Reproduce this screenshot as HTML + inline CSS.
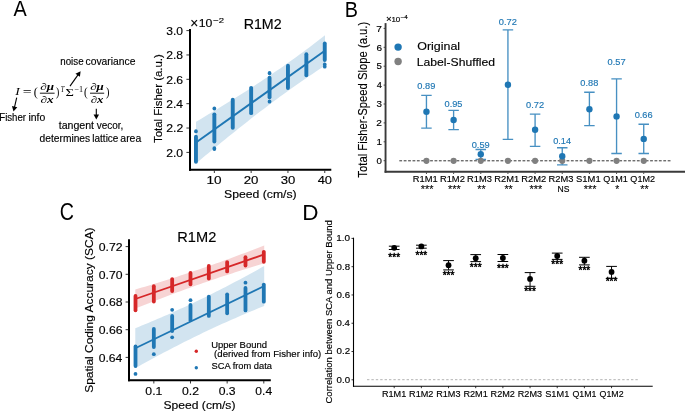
<!DOCTYPE html>
<html><head><meta charset="utf-8"><style>
html,body{margin:0;padding:0;background:#fff;width:685px;height:411px;overflow:hidden}
svg{display:block;will-change:transform} svg text{font-family:"Liberation Sans", sans-serif} svg g text{font-family:"Liberation Serif", serif}
</style></head><body>
<svg width="685" height="411" viewBox="0 0 685 411">
<rect width="685" height="411" fill="#fff"/>
<text x="13.40" y="16.20" font-size="22.40" fill="#000" style='font-family:"Liberation Sans", sans-serif' textLength="13.24" lengthAdjust="spacingAndGlyphs" stroke="none">A</text>
<text x="344.81" y="16.50" font-size="22.40" fill="#000" style='font-family:"Liberation Sans", sans-serif' textLength="13.22" lengthAdjust="spacingAndGlyphs" stroke="none">B</text>
<text x="59.82" y="220.30" font-size="23.00" fill="#000" style='font-family:"Liberation Sans", sans-serif' textLength="14.21" lengthAdjust="spacingAndGlyphs" stroke="none">C</text>
<text x="302.30" y="220.30" font-size="22.40" fill="#000" style='font-family:"Liberation Sans", sans-serif' textLength="16.26" lengthAdjust="spacingAndGlyphs" stroke="none">D</text>
<text x="60.27" y="65.00" font-size="10.60" fill="#000" style='font-family:"Liberation Sans", sans-serif' textLength="23.28" lengthAdjust="spacingAndGlyphs"  stroke="#000" stroke-width="0.15">noise</text>
<text x="85.54" y="65.00" font-size="10.60" fill="#000" style='font-family:"Liberation Sans", sans-serif' textLength="49.94" lengthAdjust="spacingAndGlyphs"  stroke="#000" stroke-width="0.15">covariance</text>
<text x="-0.77" y="120.70" font-size="10.20" fill="#000" style='font-family:"Liberation Sans", sans-serif' textLength="26.85" lengthAdjust="spacingAndGlyphs"  stroke="#000" stroke-width="0.15">Fisher</text>
<text x="28.42" y="120.70" font-size="10.20" fill="#000" style='font-family:"Liberation Sans", sans-serif' textLength="16.82" lengthAdjust="spacingAndGlyphs"  stroke="#000" stroke-width="0.15">info</text>
<text x="58.74" y="128.90" font-size="10.20" fill="#000" style='font-family:"Liberation Sans", sans-serif' textLength="35.33" lengthAdjust="spacingAndGlyphs"  stroke="#000" stroke-width="0.15">tangent</text>
<text x="96.65" y="128.90" font-size="10.20" fill="#000" style='font-family:"Liberation Sans", sans-serif' textLength="26.63" lengthAdjust="spacingAndGlyphs"  stroke="#000" stroke-width="0.15">vecor,</text>
<text x="39.59" y="141.70" font-size="10.20" fill="#000" style='font-family:"Liberation Sans", sans-serif' textLength="50.59" lengthAdjust="spacingAndGlyphs"  stroke="#000" stroke-width="0.15">determines</text>
<text x="92.35" y="141.70" font-size="10.20" fill="#000" style='font-family:"Liberation Sans", sans-serif' textLength="26.02" lengthAdjust="spacingAndGlyphs"  stroke="#000" stroke-width="0.15">lattice</text>
<text x="120.33" y="141.70" font-size="10.20" fill="#000" style='font-family:"Liberation Sans", sans-serif' textLength="20.89" lengthAdjust="spacingAndGlyphs"  stroke="#000" stroke-width="0.15">area</text>
<text x="15.17" y="95.30" font-size="10.50" fill="#000" font-style="italic" style='font-family:"Liberation Serif", serif' textLength="4.53" lengthAdjust="spacingAndGlyphs">I</text>
<text x="22.72" y="96.20" font-size="12.50" fill="#000"  style='font-family:"Liberation Serif", serif' textLength="8.85" lengthAdjust="spacingAndGlyphs">=</text>
<text x="33.75" y="96.00" font-size="12.50" fill="#000"  style='font-family:"Liberation Serif", serif' textLength="4.05" lengthAdjust="spacingAndGlyphs">(</text>
<text x="40.24" y="90.20" font-size="9.60" fill="#000" font-style="italic" font-weight="bold" style='font-family:"Liberation Serif", serif' textLength="13.76" lengthAdjust="spacingAndGlyphs">∂μ</text>
<text x="40.54" y="102.90" font-size="9.60" fill="#000" font-style="italic" font-weight="bold" style='font-family:"Liberation Serif", serif' textLength="13.08" lengthAdjust="spacingAndGlyphs">∂x</text>
<text x="56.00" y="96.00" font-size="12.50" fill="#000"  style='font-family:"Liberation Serif", serif' textLength="3.33" lengthAdjust="spacingAndGlyphs">)</text>
<text x="60.77" y="91.60" font-size="8.60" fill="#000" font-style="italic" style='font-family:"Liberation Serif", serif' textLength="3.64" lengthAdjust="spacingAndGlyphs">T</text>
<text x="65.62" y="95.50" font-size="10.50" fill="#000"  style='font-family:"Liberation Serif", serif' textLength="8.43" lengthAdjust="spacingAndGlyphs">Σ</text>
<text x="74.49" y="91.70" font-size="8.20" fill="#000"  style='font-family:"Liberation Serif", serif' textLength="8.69" lengthAdjust="spacingAndGlyphs">−1</text>
<text x="84.11" y="96.00" font-size="12.50" fill="#000"  style='font-family:"Liberation Serif", serif' textLength="3.66" lengthAdjust="spacingAndGlyphs">(</text>
<text x="90.15" y="90.20" font-size="9.60" fill="#000" font-style="italic" font-weight="bold" style='font-family:"Liberation Serif", serif' textLength="13.65" lengthAdjust="spacingAndGlyphs">∂μ</text>
<text x="90.85" y="102.90" font-size="9.60" fill="#000" font-style="italic" font-weight="bold" style='font-family:"Liberation Serif", serif' textLength="12.65" lengthAdjust="spacingAndGlyphs">∂x</text>
<text x="105.99" y="96.00" font-size="12.50" fill="#000"  style='font-family:"Liberation Serif", serif' textLength="3.46" lengthAdjust="spacingAndGlyphs">)</text>
<line x1="39.9" y1="93.2" x2="54.6" y2="93.2" stroke="#000" stroke-width="0.9" />
<line x1="90.0" y1="93.2" x2="104.2" y2="93.2" stroke="#000" stroke-width="0.9" />
<line x1="70.0" y1="86.1" x2="77.99141659897367" y2="74.86678232785776" stroke="#000" stroke-width="1.1" />
<polygon points="80.6,71.2 79.94238542143937,76.86833688713583 75.46076257627989,73.68006828588142" fill="#000"/>
<line x1="16.7" y1="97.7" x2="14.509563510235642" y2="107.21470850241393" stroke="#000" stroke-width="1.1" />
<polygon points="13.5,111.6 11.941836873959225,106.1104984130937 17.301637593231092,107.34440937004837" fill="#000"/>
<line x1="96.3" y1="108.8" x2="96.3" y2="115.1" stroke="#000" stroke-width="1.1" />
<polygon points="96.3,119.6 93.55,114.6 99.05,114.6" fill="#000"/>
<polygon points="196.00,121.80 199.22,119.89 202.45,117.97 205.68,116.04 208.90,114.10 212.12,112.16 215.35,110.21 218.57,108.25 221.80,106.28 225.03,104.30 228.25,102.31 231.47,100.31 234.70,98.30 237.93,96.28 241.15,94.24 244.38,92.20 247.60,90.14 250.82,88.06 254.05,85.97 257.27,83.86 260.50,81.74 263.73,79.60 266.95,77.45 270.18,75.27 273.40,73.08 276.62,70.87 279.85,68.64 283.07,66.39 286.30,64.12 289.52,61.83 292.75,59.52 295.98,57.19 299.20,54.84 302.43,52.47 305.65,50.08 308.88,47.68 312.10,45.25 315.32,42.81 318.55,40.35 321.77,37.87 325.00,35.37 325.00,65.63 321.77,67.74 318.55,69.86 315.32,72.01 312.10,74.17 308.88,76.35 305.65,78.55 302.43,80.76 299.20,83.00 295.98,85.26 292.75,87.53 289.52,89.83 286.30,92.14 283.07,94.48 279.85,96.83 276.62,99.21 273.40,101.60 270.18,104.01 266.95,106.44 263.73,108.89 260.50,111.36 257.27,113.84 254.05,116.34 250.82,118.86 247.60,121.38 244.38,123.93 241.15,126.49 237.93,129.06 234.70,131.64 231.47,134.23 228.25,136.84 225.03,139.46 221.80,142.08 218.57,144.72 215.35,147.36 212.12,150.02 208.90,152.68 205.68,155.35 202.45,158.02 199.22,160.71 196.00,163.40" fill="#1f77b4" fill-opacity="0.2"/>
<line x1="196" y1="142.6" x2="324.5" y2="50.9" stroke="#1f77b4" stroke-width="1.9" />
<line x1="195.95" y1="136.75" x2="195.95" y2="161.85000000000002" stroke="#1f77b4" stroke-width="3.9" stroke-linecap="round"/>
<line x1="214.35" y1="114.35000000000001" x2="214.35" y2="141.45000000000002" stroke="#1f77b4" stroke-width="3.9" stroke-linecap="round"/>
<line x1="232.75" y1="99.65" x2="232.75" y2="127.85000000000001" stroke="#1f77b4" stroke-width="3.9" stroke-linecap="round"/>
<line x1="251.14999999999998" y1="87.85000000000001" x2="251.14999999999998" y2="113.14999999999999" stroke="#1f77b4" stroke-width="3.9" stroke-linecap="round"/>
<line x1="269.55" y1="77.75" x2="269.55" y2="97.25" stroke="#1f77b4" stroke-width="3.9" stroke-linecap="round"/>
<line x1="287.95" y1="65.75" x2="287.95" y2="87.95" stroke="#1f77b4" stroke-width="3.9" stroke-linecap="round"/>
<line x1="306.35" y1="54.150000000000006" x2="306.35" y2="75.25" stroke="#1f77b4" stroke-width="3.9" stroke-linecap="round"/>
<line x1="324.75" y1="43.550000000000004" x2="324.75" y2="60.05" stroke="#1f77b4" stroke-width="3.9" stroke-linecap="round"/>
<line x1="195.95" y1="131.15" x2="195.95" y2="131.45000000000002" stroke="#1f77b4" stroke-width="3.7" stroke-linecap="round"/>
<line x1="214.35" y1="108.44999999999999" x2="214.35" y2="108.55000000000001" stroke="#1f77b4" stroke-width="3.7" stroke-linecap="round"/>
<line x1="214.35" y1="149.04999999999998" x2="214.35" y2="148.15" stroke="#1f77b4" stroke-width="3.7" stroke-linecap="round"/>
<line x1="269.55" y1="72.94999999999999" x2="269.55" y2="73.35000000000001" stroke="#1f77b4" stroke-width="3.7" stroke-linecap="round"/>
<line x1="269.55" y1="101.25" x2="269.55" y2="101.75" stroke="#1f77b4" stroke-width="3.7" stroke-linecap="round"/>
<line x1="324.75" y1="64.45" x2="324.75" y2="64.35000000000001" stroke="#1f77b4" stroke-width="3.7" stroke-linecap="round"/>
<line x1="324.75" y1="66.64999999999999" x2="324.75" y2="66.75" stroke="#1f77b4" stroke-width="3.7" stroke-linecap="round"/>
<line x1="190.0" y1="29.1" x2="190.0" y2="170.7" stroke="#000" stroke-width="2.0" />
<line x1="189.0" y1="169.7" x2="331.3" y2="169.7" stroke="#000" stroke-width="2.0" />
<line x1="186.4" y1="152.4" x2="189" y2="152.4" stroke="#222" stroke-width="0.9" />
<text x="166.19" y="156.70" font-size="11.00" fill="#000" style='font-family:"Liberation Sans", sans-serif' textLength="16.90" lengthAdjust="spacingAndGlyphs"  stroke="#000" stroke-width="0.15">2.0</text>
<line x1="186.4" y1="128.04" x2="189" y2="128.04" stroke="#222" stroke-width="0.9" />
<text x="166.19" y="132.34" font-size="11.00" fill="#000" style='font-family:"Liberation Sans", sans-serif' textLength="17.03" lengthAdjust="spacingAndGlyphs"  stroke="#000" stroke-width="0.15">2.2</text>
<line x1="186.4" y1="103.68000000000002" x2="189" y2="103.68000000000002" stroke="#222" stroke-width="0.9" />
<text x="166.20" y="107.98" font-size="11.00" fill="#000" style='font-family:"Liberation Sans", sans-serif' textLength="16.77" lengthAdjust="spacingAndGlyphs"  stroke="#000" stroke-width="0.15">2.4</text>
<line x1="186.4" y1="79.32" x2="189" y2="79.32" stroke="#222" stroke-width="0.9" />
<text x="166.19" y="83.62" font-size="11.00" fill="#000" style='font-family:"Liberation Sans", sans-serif' textLength="16.96" lengthAdjust="spacingAndGlyphs"  stroke="#000" stroke-width="0.15">2.6</text>
<line x1="186.4" y1="54.960000000000036" x2="189" y2="54.960000000000036" stroke="#222" stroke-width="0.9" />
<text x="166.19" y="59.26" font-size="11.00" fill="#000" style='font-family:"Liberation Sans", sans-serif' textLength="16.90" lengthAdjust="spacingAndGlyphs"  stroke="#000" stroke-width="0.15">2.8</text>
<line x1="186.4" y1="30.60000000000001" x2="189" y2="30.60000000000001" stroke="#222" stroke-width="0.9" />
<text x="166.32" y="34.90" font-size="11.00" fill="#000" style='font-family:"Liberation Sans", sans-serif' textLength="16.77" lengthAdjust="spacingAndGlyphs"  stroke="#000" stroke-width="0.15">3.0</text>
<line x1="214.35" y1="170.5" x2="214.35" y2="173.0" stroke="#222" stroke-width="0.9" />
<text x="206.58" y="184.30" font-size="11.00" fill="#000" style='font-family:"Liberation Sans", sans-serif' textLength="15.09" lengthAdjust="spacingAndGlyphs"  stroke="#000" stroke-width="0.15">10</text>
<line x1="251.14999999999998" y1="170.5" x2="251.14999999999998" y2="173.0" stroke="#222" stroke-width="0.9" />
<text x="243.74" y="184.30" font-size="11.00" fill="#000" style='font-family:"Liberation Sans", sans-serif' textLength="14.72" lengthAdjust="spacingAndGlyphs"  stroke="#000" stroke-width="0.15">20</text>
<line x1="287.95" y1="170.5" x2="287.95" y2="173.0" stroke="#222" stroke-width="0.9" />
<text x="280.68" y="184.30" font-size="11.00" fill="#000" style='font-family:"Liberation Sans", sans-serif' textLength="14.58" lengthAdjust="spacingAndGlyphs"  stroke="#000" stroke-width="0.15">30</text>
<line x1="324.75" y1="170.5" x2="324.75" y2="173.0" stroke="#222" stroke-width="0.9" />
<text x="317.68" y="184.30" font-size="11.00" fill="#000" style='font-family:"Liberation Sans", sans-serif' textLength="14.37" lengthAdjust="spacingAndGlyphs"  stroke="#000" stroke-width="0.15">40</text>
<text x="224.05" y="197.90" font-size="10.60" fill="#000" style='font-family:"Liberation Sans", sans-serif' textLength="72.60" lengthAdjust="spacingAndGlyphs"  stroke="#000" stroke-width="0.15">Speed (cm/s)</text>
<text x="0" y="0" font-size="11.40" fill="#000" stroke="#000" stroke-width="0.15" style='font-family:"Liberation Sans", sans-serif' textLength="88.88" lengthAdjust="spacingAndGlyphs" transform="translate(161.70,143.03) rotate(-90)">Total Fisher (a.u.)</text>
<text x="243.66" y="29.10" font-size="15.30" fill="#000" style='font-family:"Liberation Sans", sans-serif' textLength="37.99" lengthAdjust="spacingAndGlyphs"  stroke="#000" stroke-width="0.15">R1M2</text>
<text x="190.24" y="28.00" font-size="14.00" fill="#000" style='font-family:"Liberation Sans", sans-serif' textLength="8.01" lengthAdjust="spacingAndGlyphs"  stroke="#000" stroke-width="0.15">×</text>
<text x="198.78" y="26.80" font-size="11.00" fill="#000" style='font-family:"Liberation Sans", sans-serif' textLength="13.64" lengthAdjust="spacingAndGlyphs"  stroke="#000" stroke-width="0.15">10</text>
<text x="213.22" y="22.80" font-size="8.00" fill="#000" style='font-family:"Liberation Sans", sans-serif' textLength="10.85" lengthAdjust="spacingAndGlyphs"  stroke="#000" stroke-width="0.15">−2</text>
<line x1="399.3" y1="160.8" x2="670.5" y2="160.8" stroke="#333" stroke-width="1.0" stroke-dasharray="2.8 1.6"/>
<path d="M426.45,95.3 L426.45,128.1 M421.20,95.3 L431.70,95.3 M421.20,128.1 L431.70,128.1" stroke="#1f77b4" stroke-opacity="0.82" stroke-width="1.35" fill="none"/>
<circle cx="426.45" cy="160.8" r="3.1" fill="#808080"/>
<circle cx="426.45" cy="111.7" r="3.2" fill="#1f77b4"/>
<text x="417.38" y="89.00" font-size="8.30" fill="#1f77b4" style='font-family:"Liberation Sans", sans-serif' textLength="18.00" lengthAdjust="spacingAndGlyphs"  stroke="#1f77b4" stroke-width="0.15">0.89</text>
<line x1="426.45" y1="172.5" x2="426.45" y2="174.0" stroke="#333" stroke-width="0.9" />
<text x="412.75" y="182.20" font-size="9.00" fill="#000" style='font-family:"Liberation Sans", sans-serif' textLength="24.94" lengthAdjust="spacingAndGlyphs"  stroke="#000" stroke-width="0.15">R1M1</text>
<text x="420.78" y="193.10" font-size="10.80" fill="#000" style='font-family:"Liberation Sans", sans-serif' textLength="12.71" lengthAdjust="spacingAndGlyphs" stroke="#000" stroke-width="0.12">***</text>
<path d="M453.61,110.4 L453.61,129.6 M448.36,110.4 L458.86,110.4 M448.36,129.6 L458.86,129.6" stroke="#1f77b4" stroke-opacity="0.82" stroke-width="1.35" fill="none"/>
<circle cx="453.61" cy="160.8" r="3.1" fill="#808080"/>
<circle cx="453.61" cy="120.0" r="3.2" fill="#1f77b4"/>
<text x="444.54" y="107.00" font-size="8.30" fill="#1f77b4" style='font-family:"Liberation Sans", sans-serif' textLength="17.95" lengthAdjust="spacingAndGlyphs"  stroke="#1f77b4" stroke-width="0.15">0.95</text>
<line x1="453.61" y1="172.5" x2="453.61" y2="174.0" stroke="#333" stroke-width="0.9" />
<text x="439.91" y="182.20" font-size="9.00" fill="#000" style='font-family:"Liberation Sans", sans-serif' textLength="24.94" lengthAdjust="spacingAndGlyphs"  stroke="#000" stroke-width="0.15">R1M2</text>
<text x="447.94" y="193.10" font-size="10.80" fill="#000" style='font-family:"Liberation Sans", sans-serif' textLength="12.71" lengthAdjust="spacingAndGlyphs" stroke="#000" stroke-width="0.12">***</text>
<path d="M480.77,149.5 L480.77,159.3 M475.52,149.5 L486.02,149.5 M475.52,159.3 L486.02,159.3" stroke="#1f77b4" stroke-opacity="0.82" stroke-width="1.35" fill="none"/>
<circle cx="480.77" cy="160.8" r="3.1" fill="#808080"/>
<circle cx="480.77" cy="154.3" r="3.2" fill="#1f77b4"/>
<text x="471.70" y="147.50" font-size="8.30" fill="#1f77b4" style='font-family:"Liberation Sans", sans-serif' textLength="18.00" lengthAdjust="spacingAndGlyphs"  stroke="#1f77b4" stroke-width="0.15">0.59</text>
<line x1="480.77" y1="172.5" x2="480.77" y2="174.0" stroke="#333" stroke-width="0.9" />
<text x="467.07" y="182.20" font-size="9.00" fill="#000" style='font-family:"Liberation Sans", sans-serif' textLength="24.89" lengthAdjust="spacingAndGlyphs"  stroke="#000" stroke-width="0.15">R1M3</text>
<text x="477.28" y="193.10" font-size="10.80" fill="#000" style='font-family:"Liberation Sans", sans-serif' textLength="8.36" lengthAdjust="spacingAndGlyphs" stroke="#000" stroke-width="0.12">**</text>
<path d="M507.93,29.8 L507.93,139.3 M502.68,29.8 L513.18,29.8 M502.68,139.3 L513.18,139.3" stroke="#1f77b4" stroke-opacity="0.82" stroke-width="1.35" fill="none"/>
<circle cx="507.93" cy="160.8" r="3.1" fill="#808080"/>
<circle cx="507.93" cy="84.8" r="3.2" fill="#1f77b4"/>
<text x="498.86" y="25.30" font-size="8.30" fill="#1f77b4" style='font-family:"Liberation Sans", sans-serif' textLength="18.05" lengthAdjust="spacingAndGlyphs"  stroke="#1f77b4" stroke-width="0.15">0.72</text>
<line x1="507.93" y1="172.5" x2="507.93" y2="174.0" stroke="#333" stroke-width="0.9" />
<text x="494.23" y="182.20" font-size="9.00" fill="#000" style='font-family:"Liberation Sans", sans-serif' textLength="24.94" lengthAdjust="spacingAndGlyphs"  stroke="#000" stroke-width="0.15">R2M1</text>
<text x="504.44" y="193.10" font-size="10.80" fill="#000" style='font-family:"Liberation Sans", sans-serif' textLength="8.36" lengthAdjust="spacingAndGlyphs" stroke="#000" stroke-width="0.12">**</text>
<path d="M535.09,114.1 L535.09,146.3 M529.84,114.1 L540.34,114.1 M529.84,146.3 L540.34,146.3" stroke="#1f77b4" stroke-opacity="0.82" stroke-width="1.35" fill="none"/>
<circle cx="535.09" cy="160.8" r="3.1" fill="#808080"/>
<circle cx="535.09" cy="129.8" r="3.2" fill="#1f77b4"/>
<text x="526.02" y="108.30" font-size="8.30" fill="#1f77b4" style='font-family:"Liberation Sans", sans-serif' textLength="18.05" lengthAdjust="spacingAndGlyphs"  stroke="#1f77b4" stroke-width="0.15">0.72</text>
<line x1="535.09" y1="172.5" x2="535.09" y2="174.0" stroke="#333" stroke-width="0.9" />
<text x="521.39" y="182.20" font-size="9.00" fill="#000" style='font-family:"Liberation Sans", sans-serif' textLength="24.94" lengthAdjust="spacingAndGlyphs"  stroke="#000" stroke-width="0.15">R2M2</text>
<text x="529.42" y="193.10" font-size="10.80" fill="#000" style='font-family:"Liberation Sans", sans-serif' textLength="12.71" lengthAdjust="spacingAndGlyphs" stroke="#000" stroke-width="0.12">***</text>
<path d="M562.25,147.7 L562.25,164.8 M557.00,147.7 L567.50,147.7 M557.00,164.8 L567.50,164.8" stroke="#1f77b4" stroke-opacity="0.82" stroke-width="1.35" fill="none"/>
<circle cx="562.25" cy="160.8" r="3.1" fill="#808080"/>
<circle cx="562.25" cy="156.3" r="3.2" fill="#1f77b4"/>
<text x="553.18" y="144.00" font-size="8.30" fill="#1f77b4" style='font-family:"Liberation Sans", sans-serif' textLength="17.85" lengthAdjust="spacingAndGlyphs"  stroke="#1f77b4" stroke-width="0.15">0.14</text>
<line x1="562.25" y1="172.5" x2="562.25" y2="174.0" stroke="#333" stroke-width="0.9" />
<text x="548.55" y="182.20" font-size="9.00" fill="#000" style='font-family:"Liberation Sans", sans-serif' textLength="24.89" lengthAdjust="spacingAndGlyphs"  stroke="#000" stroke-width="0.15">R2M3</text>
<text x="557.56" y="191.90" font-size="9.40" fill="#000" style='font-family:"Liberation Sans", sans-serif' textLength="11.91" lengthAdjust="spacingAndGlyphs"  stroke="#000" stroke-width="0.15">NS</text>
<path d="M589.41,92.2 L589.41,125.6 M584.16,92.2 L594.66,92.2 M584.16,125.6 L594.66,125.6" stroke="#1f77b4" stroke-opacity="0.82" stroke-width="1.35" fill="none"/>
<circle cx="589.41" cy="160.8" r="3.1" fill="#808080"/>
<circle cx="589.41" cy="109.2" r="3.2" fill="#1f77b4"/>
<text x="580.34" y="86.00" font-size="8.30" fill="#1f77b4" style='font-family:"Liberation Sans", sans-serif' textLength="17.95" lengthAdjust="spacingAndGlyphs"  stroke="#1f77b4" stroke-width="0.15">0.88</text>
<line x1="589.41" y1="172.5" x2="589.41" y2="174.0" stroke="#333" stroke-width="0.9" />
<text x="576.04" y="182.20" font-size="9.00" fill="#000" style='font-family:"Liberation Sans", sans-serif' textLength="24.62" lengthAdjust="spacingAndGlyphs"  stroke="#000" stroke-width="0.15">S1M1</text>
<text x="583.74" y="193.10" font-size="10.80" fill="#000" style='font-family:"Liberation Sans", sans-serif' textLength="12.71" lengthAdjust="spacingAndGlyphs" stroke="#000" stroke-width="0.12">***</text>
<path d="M616.57,78.9 L616.57,153.5 M611.32,78.9 L621.82,78.9 M611.32,153.5 L621.82,153.5" stroke="#1f77b4" stroke-opacity="0.82" stroke-width="1.35" fill="none"/>
<circle cx="616.5699999999999" cy="160.8" r="3.1" fill="#808080"/>
<circle cx="616.5699999999999" cy="116.4" r="3.2" fill="#1f77b4"/>
<text x="607.50" y="64.50" font-size="8.30" fill="#1f77b4" style='font-family:"Liberation Sans", sans-serif' textLength="18.05" lengthAdjust="spacingAndGlyphs"  stroke="#1f77b4" stroke-width="0.15">0.57</text>
<line x1="616.5699999999999" y1="172.5" x2="616.5699999999999" y2="174.0" stroke="#333" stroke-width="0.9" />
<text x="603.21" y="182.20" font-size="9.00" fill="#000" style='font-family:"Liberation Sans", sans-serif' textLength="24.59" lengthAdjust="spacingAndGlyphs"  stroke="#000" stroke-width="0.15">Q1M1</text>
<text x="615.26" y="193.10" font-size="10.80" fill="#000" style='font-family:"Liberation Sans", sans-serif' textLength="4.00" lengthAdjust="spacingAndGlyphs" stroke="#000" stroke-width="0.12">*</text>
<path d="M643.73,124.2 L643.73,153.5 M638.48,124.2 L648.98,124.2 M638.48,153.5 L648.98,153.5" stroke="#1f77b4" stroke-opacity="0.82" stroke-width="1.35" fill="none"/>
<circle cx="643.73" cy="160.8" r="3.1" fill="#808080"/>
<circle cx="643.73" cy="138.9" r="3.2" fill="#1f77b4"/>
<text x="634.66" y="118.40" font-size="8.30" fill="#1f77b4" style='font-family:"Liberation Sans", sans-serif' textLength="18.00" lengthAdjust="spacingAndGlyphs"  stroke="#1f77b4" stroke-width="0.15">0.66</text>
<line x1="643.73" y1="172.5" x2="643.73" y2="174.0" stroke="#333" stroke-width="0.9" />
<text x="630.37" y="182.20" font-size="9.00" fill="#000" style='font-family:"Liberation Sans", sans-serif' textLength="24.59" lengthAdjust="spacingAndGlyphs"  stroke="#000" stroke-width="0.15">Q1M2</text>
<text x="640.24" y="193.10" font-size="10.80" fill="#000" style='font-family:"Liberation Sans", sans-serif' textLength="8.36" lengthAdjust="spacingAndGlyphs" stroke="#000" stroke-width="0.12">**</text>
<line x1="385.55" y1="23.1" x2="385.55" y2="172.7" stroke="#3a3a3a" stroke-width="1.9" />
<line x1="384.6" y1="171.75" x2="685" y2="171.75" stroke="#3a3a3a" stroke-width="1.9" />
<line x1="383.6" y1="160.7" x2="385" y2="160.7" stroke="#3a3a3a" stroke-width="0.9" />
<text x="376.51" y="163.90" font-size="8.60" fill="#000" style='font-family:"Liberation Sans", sans-serif' textLength="5.39" lengthAdjust="spacingAndGlyphs"  stroke="#000" stroke-width="0.15">0</text>
<line x1="383.6" y1="141.79999999999998" x2="385" y2="141.79999999999998" stroke="#3a3a3a" stroke-width="0.9" />
<text x="376.57" y="145.00" font-size="8.60" fill="#000" style='font-family:"Liberation Sans", sans-serif' textLength="5.43" lengthAdjust="spacingAndGlyphs"  stroke="#000" stroke-width="0.15">1</text>
<line x1="383.6" y1="122.89999999999999" x2="385" y2="122.89999999999999" stroke="#3a3a3a" stroke-width="0.9" />
<text x="376.39" y="126.10" font-size="8.60" fill="#000" style='font-family:"Liberation Sans", sans-serif' textLength="5.62" lengthAdjust="spacingAndGlyphs"  stroke="#000" stroke-width="0.15">2</text>
<line x1="383.6" y1="104.0" x2="385" y2="104.0" stroke="#3a3a3a" stroke-width="0.9" />
<text x="376.51" y="107.20" font-size="8.60" fill="#000" style='font-family:"Liberation Sans", sans-serif' textLength="5.44" lengthAdjust="spacingAndGlyphs"  stroke="#000" stroke-width="0.15">3</text>
<line x1="383.6" y1="85.1" x2="385" y2="85.1" stroke="#3a3a3a" stroke-width="0.9" />
<text x="376.67" y="88.30" font-size="8.60" fill="#000" style='font-family:"Liberation Sans", sans-serif' textLength="5.12" lengthAdjust="spacingAndGlyphs"  stroke="#000" stroke-width="0.15">4</text>
<line x1="383.6" y1="66.19999999999999" x2="385" y2="66.19999999999999" stroke="#3a3a3a" stroke-width="0.9" />
<text x="376.51" y="69.40" font-size="8.60" fill="#000" style='font-family:"Liberation Sans", sans-serif' textLength="5.39" lengthAdjust="spacingAndGlyphs"  stroke="#000" stroke-width="0.15">5</text>
<line x1="383.6" y1="47.3" x2="385" y2="47.3" stroke="#3a3a3a" stroke-width="0.9" />
<text x="376.40" y="50.50" font-size="8.60" fill="#000" style='font-family:"Liberation Sans", sans-serif' textLength="5.56" lengthAdjust="spacingAndGlyphs"  stroke="#000" stroke-width="0.15">6</text>
<line x1="383.6" y1="28.400000000000006" x2="385" y2="28.400000000000006" stroke="#3a3a3a" stroke-width="0.9" />
<text x="376.39" y="31.60" font-size="8.60" fill="#000" style='font-family:"Liberation Sans", sans-serif' textLength="5.62" lengthAdjust="spacingAndGlyphs"  stroke="#000" stroke-width="0.15">7</text>
<text x="0" y="0" font-size="12.20" fill="#000" stroke="#000" stroke-width="0.15" style='font-family:"Liberation Sans", sans-serif' textLength="155.81" lengthAdjust="spacingAndGlyphs" transform="translate(366.80,177.63) rotate(-90)">Total Fisher-Speed Slope (a.u.)</text>
<text x="386.11" y="22.20" font-size="9.00" fill="#000" style='font-family:"Liberation Sans", sans-serif' textLength="5.77" lengthAdjust="spacingAndGlyphs"  stroke="#000" stroke-width="0.15">×</text>
<text x="391.40" y="21.70" font-size="6.60" fill="#000" style='font-family:"Liberation Sans", sans-serif' textLength="8.83" lengthAdjust="spacingAndGlyphs"  stroke="#000" stroke-width="0.15">10</text>
<text x="400.69" y="19.40" font-size="5.00" fill="#000" style='font-family:"Liberation Sans", sans-serif' textLength="7.10" lengthAdjust="spacingAndGlyphs"  stroke="#000" stroke-width="0.15">−4</text>
<circle cx="398.1" cy="47.1" r="3.7" fill="#1f77b4"/>
<circle cx="398.1" cy="61.5" r="3.7" fill="#808080"/>
<text x="417.24" y="50.10" font-size="11.70" fill="#000" style='font-family:"Liberation Sans", sans-serif' textLength="42.88" lengthAdjust="spacingAndGlyphs"  stroke="#000" stroke-width="0.15">Original</text>
<text x="416.83" y="65.70" font-size="11.60" fill="#000" style='font-family:"Liberation Sans", sans-serif' textLength="78.18" lengthAdjust="spacingAndGlyphs"  stroke="#000" stroke-width="0.15">Label-Shuffled</text>
<polygon points="135.30,328.21 138.52,326.90 141.75,325.58 144.97,324.25 148.19,322.91 151.41,321.56 154.64,320.20 157.86,318.82 161.08,317.44 164.30,316.04 167.53,314.63 170.75,313.21 173.97,311.78 177.19,310.33 180.42,308.87 183.64,307.39 186.86,305.90 190.08,304.40 193.31,302.88 196.53,301.35 199.75,299.80 202.97,298.24 206.19,296.66 209.42,295.07 212.64,293.47 215.86,291.85 219.09,290.22 222.31,288.57 225.53,286.91 228.75,285.24 231.97,283.55 235.20,281.86 238.42,280.14 241.64,278.42 244.87,276.69 248.09,274.94 251.31,273.18 254.53,271.41 257.75,269.63 260.98,267.84 264.20,266.04 264.20,305.96 260.98,307.27 257.75,308.59 254.53,309.92 251.31,311.26 248.09,312.61 244.87,313.97 241.64,315.35 238.42,316.74 235.20,318.13 231.97,319.55 228.75,320.97 225.53,322.41 222.31,323.86 219.09,325.32 215.86,326.80 212.64,328.29 209.42,329.80 206.19,331.32 202.97,332.85 199.75,334.40 196.53,335.96 193.31,337.54 190.08,339.13 186.86,340.74 183.64,342.36 180.42,343.99 177.19,345.64 173.97,347.30 170.75,348.98 167.53,350.67 164.30,352.37 161.08,354.08 157.86,355.81 154.64,357.54 151.41,359.29 148.19,361.05 144.97,362.82 141.75,364.60 138.52,366.39 135.30,368.19" fill="#1f77b4" fill-opacity="0.2"/>
<polygon points="135.30,289.50 138.52,288.55 141.75,287.59 144.97,286.63 148.19,285.66 151.41,284.69 154.64,283.71 157.86,282.72 161.08,281.73 164.30,280.73 167.53,279.72 170.75,278.71 173.97,277.68 177.19,276.65 180.42,275.61 183.64,274.56 186.86,273.51 190.08,272.44 193.31,271.37 196.53,270.28 199.75,269.19 202.97,268.08 206.19,266.97 209.42,265.85 212.64,264.71 215.86,263.57 219.09,262.42 222.31,261.26 225.53,260.09 228.75,258.91 231.97,257.72 235.20,256.52 238.42,255.32 241.64,254.10 244.87,252.88 248.09,251.65 251.31,250.42 254.53,249.18 257.75,247.93 260.98,246.67 264.20,245.41 264.20,263.39 260.98,264.36 257.75,265.33 254.53,266.31 251.31,267.30 248.09,268.30 244.87,269.30 241.64,270.31 238.42,271.32 235.20,272.35 231.97,273.38 228.75,274.42 225.53,275.47 222.31,276.53 219.09,277.60 215.86,278.68 212.64,279.77 209.42,280.86 206.19,281.97 202.97,283.09 199.75,284.21 196.53,285.35 193.31,286.49 190.08,287.65 186.86,288.81 183.64,289.99 180.42,291.17 177.19,292.36 173.97,293.56 170.75,294.76 167.53,295.98 164.30,297.20 161.08,298.43 157.86,299.67 154.64,300.91 151.41,302.16 148.19,303.42 144.97,304.68 141.75,305.95 138.52,307.22 135.30,308.50" fill="#d62728" fill-opacity="0.2"/>
<line x1="135.3" y1="348.2" x2="264.2" y2="286.0" stroke="#1f77b4" stroke-width="1.8" />
<line x1="135.3" y1="299.0" x2="264.2" y2="254.4" stroke="#d62728" stroke-width="1.8" />
<line x1="135.5" y1="296.0" x2="135.5" y2="310.3" stroke="#d62728" stroke-width="3.8" stroke-linecap="round"/>
<line x1="153.83" y1="286.2" x2="153.83" y2="301.5" stroke="#d62728" stroke-width="3.8" stroke-linecap="round"/>
<line x1="172.16" y1="279.09999999999997" x2="172.16" y2="291.1" stroke="#d62728" stroke-width="3.8" stroke-linecap="round"/>
<line x1="190.49" y1="272.9" x2="190.49" y2="284.3" stroke="#d62728" stroke-width="3.8" stroke-linecap="round"/>
<line x1="208.82" y1="266.0" x2="208.82" y2="278.6" stroke="#d62728" stroke-width="3.8" stroke-linecap="round"/>
<line x1="227.15" y1="262.09999999999997" x2="227.15" y2="271.40000000000003" stroke="#d62728" stroke-width="3.8" stroke-linecap="round"/>
<line x1="245.48000000000002" y1="257.2" x2="245.48000000000002" y2="265.5" stroke="#d62728" stroke-width="3.8" stroke-linecap="round"/>
<line x1="263.81000000000006" y1="251.8" x2="263.81000000000006" y2="261.8" stroke="#d62728" stroke-width="3.8" stroke-linecap="round"/>
<line x1="135.5" y1="346.4" x2="135.5" y2="366.0" stroke="#1f77b4" stroke-width="3.8" stroke-linecap="round"/>
<circle cx="135.5" cy="373.9" r="1.9" fill="#1f77b4"/>
<line x1="153.83" y1="328.9" x2="153.83" y2="347.0" stroke="#1f77b4" stroke-width="3.8" stroke-linecap="round"/>
<circle cx="153.83" cy="354.2" r="1.9" fill="#1f77b4"/>
<line x1="172.16" y1="315.9" x2="172.16" y2="331.0" stroke="#1f77b4" stroke-width="3.8" stroke-linecap="round"/>
<circle cx="172.16" cy="309.8" r="1.9" fill="#1f77b4"/>
<circle cx="172.16" cy="337.3" r="1.9" fill="#1f77b4"/>
<line x1="190.49" y1="304.9" x2="190.49" y2="320.20000000000005" stroke="#1f77b4" stroke-width="3.8" stroke-linecap="round"/>
<circle cx="190.49" cy="300.2" r="1.9" fill="#1f77b4"/>
<line x1="208.82" y1="296.7" x2="208.82" y2="315.90000000000003" stroke="#1f77b4" stroke-width="3.8" stroke-linecap="round"/>
<line x1="227.15" y1="294.29999999999995" x2="227.15" y2="313.3" stroke="#1f77b4" stroke-width="3.8" stroke-linecap="round"/>
<line x1="245.48000000000002" y1="287.9" x2="245.48000000000002" y2="310.40000000000003" stroke="#1f77b4" stroke-width="3.8" stroke-linecap="round"/>
<circle cx="245.48000000000002" cy="282.7" r="1.9" fill="#1f77b4"/>
<line x1="263.81000000000006" y1="284.59999999999997" x2="263.81000000000006" y2="301.70000000000005" stroke="#1f77b4" stroke-width="3.8" stroke-linecap="round"/>
<line x1="129.0" y1="239.3" x2="129.0" y2="381.2" stroke="#000" stroke-width="2.0" />
<line x1="128.0" y1="380.2" x2="270.8" y2="380.2" stroke="#000" stroke-width="2.0" />
<line x1="125.6" y1="357.40000000000003" x2="128.1" y2="357.40000000000003" stroke="#222" stroke-width="0.9" />
<text x="98.71" y="361.60" font-size="11.00" fill="#000" style='font-family:"Liberation Sans", sans-serif' textLength="23.67" lengthAdjust="spacingAndGlyphs"  stroke="#000" stroke-width="0.15">0.64</text>
<line x1="125.6" y1="329.70000000000005" x2="128.1" y2="329.70000000000005" stroke="#222" stroke-width="0.9" />
<text x="98.71" y="333.90" font-size="11.00" fill="#000" style='font-family:"Liberation Sans", sans-serif' textLength="23.86" lengthAdjust="spacingAndGlyphs"  stroke="#000" stroke-width="0.15">0.66</text>
<line x1="125.6" y1="302.0" x2="128.1" y2="302.0" stroke="#222" stroke-width="0.9" />
<text x="98.71" y="306.20" font-size="11.00" fill="#000" style='font-family:"Liberation Sans", sans-serif' textLength="23.79" lengthAdjust="spacingAndGlyphs"  stroke="#000" stroke-width="0.15">0.68</text>
<line x1="125.6" y1="274.3000000000001" x2="128.1" y2="274.3000000000001" stroke="#222" stroke-width="0.9" />
<text x="98.71" y="278.50" font-size="11.00" fill="#000" style='font-family:"Liberation Sans", sans-serif' textLength="23.79" lengthAdjust="spacingAndGlyphs"  stroke="#000" stroke-width="0.15">0.70</text>
<line x1="125.6" y1="246.6000000000001" x2="128.1" y2="246.6000000000001" stroke="#222" stroke-width="0.9" />
<text x="98.71" y="250.80" font-size="11.00" fill="#000" style='font-family:"Liberation Sans", sans-serif' textLength="23.92" lengthAdjust="spacingAndGlyphs"  stroke="#000" stroke-width="0.15">0.72</text>
<line x1="153.83" y1="381.0" x2="153.83" y2="383.5" stroke="#222" stroke-width="0.9" />
<text x="145.39" y="394.60" font-size="11.00" fill="#000" style='font-family:"Liberation Sans", sans-serif' textLength="17.00" lengthAdjust="spacingAndGlyphs"  stroke="#000" stroke-width="0.15">0.1</text>
<line x1="190.49" y1="381.0" x2="190.49" y2="383.5" stroke="#222" stroke-width="0.9" />
<text x="182.05" y="394.60" font-size="11.00" fill="#000" style='font-family:"Liberation Sans", sans-serif' textLength="17.00" lengthAdjust="spacingAndGlyphs"  stroke="#000" stroke-width="0.15">0.2</text>
<line x1="227.15" y1="381.0" x2="227.15" y2="383.5" stroke="#222" stroke-width="0.9" />
<text x="218.71" y="394.60" font-size="11.00" fill="#000" style='font-family:"Liberation Sans", sans-serif' textLength="16.94" lengthAdjust="spacingAndGlyphs"  stroke="#000" stroke-width="0.15">0.3</text>
<line x1="263.81000000000006" y1="381.0" x2="263.81000000000006" y2="383.5" stroke="#222" stroke-width="0.9" />
<text x="255.38" y="394.60" font-size="11.00" fill="#000" style='font-family:"Liberation Sans", sans-serif' textLength="16.75" lengthAdjust="spacingAndGlyphs"  stroke="#000" stroke-width="0.15">0.4</text>
<text x="163.56" y="408.70" font-size="10.60" fill="#000" style='font-family:"Liberation Sans", sans-serif' textLength="71.89" lengthAdjust="spacingAndGlyphs"  stroke="#000" stroke-width="0.15">Speed (cm/s)</text>
<text x="0" y="0" font-size="10.60" fill="#000" stroke="#000" stroke-width="0.15" style='font-family:"Liberation Sans", sans-serif' textLength="165.21" lengthAdjust="spacingAndGlyphs" transform="translate(92.70,392.74) rotate(-90)">Spatial Coding Accuracy (SCA)</text>
<text x="177.33" y="241.70" font-size="15.00" fill="#000" style='font-family:"Liberation Sans", sans-serif' textLength="38.94" lengthAdjust="spacingAndGlyphs"  stroke="#000" stroke-width="0.15">R1M2</text>
<circle cx="196.3" cy="351.3" r="1.7" fill="#d62728"/>
<circle cx="196.3" cy="367.7" r="1.7" fill="#1f77b4"/>
<text x="211.19" y="347.70" font-size="8.60" fill="#000" style='font-family:"Liberation Sans", sans-serif' textLength="55.76" lengthAdjust="spacingAndGlyphs"  stroke="#000" stroke-width="0.15">Upper Bound</text>
<text x="214.12" y="357.10" font-size="8.60" fill="#000" style='font-family:"Liberation Sans", sans-serif' textLength="107.10" lengthAdjust="spacingAndGlyphs"  stroke="#000" stroke-width="0.15">(derived from Fisher info)</text>
<text x="211.48" y="369.20" font-size="8.60" fill="#000" style='font-family:"Liberation Sans", sans-serif' textLength="60.45" lengthAdjust="spacingAndGlyphs"  stroke="#000" stroke-width="0.15">SCA from data</text>
<line x1="367" y1="379.7" x2="638.2" y2="379.7" stroke="#aaaaaa" stroke-width="0.9" stroke-dasharray="2.4 2.0"/>
<line x1="394.2" y1="246.2" x2="394.2" y2="249.5" stroke="#000" stroke-width="1.0" />
<line x1="388.84999999999997" y1="246.2" x2="399.55" y2="246.2" stroke="#000" stroke-width="1.0" />
<line x1="388.84999999999997" y1="249.5" x2="399.55" y2="249.5" stroke="#000" stroke-width="1.0" />
<circle cx="394.2" cy="247.85" r="2.9" fill="#000"/>
<text x="388.30" y="260.55" font-size="10.50" fill="#000" style='font-family:"Liberation Sans", sans-serif' textLength="11.78" lengthAdjust="spacingAndGlyphs" stroke="#000" stroke-width="0.45">***</text>
<line x1="394.2" y1="386.3" x2="394.2" y2="388.2" stroke="#000" stroke-width="0.8" />
<text x="381.92" y="396.50" font-size="9.00" fill="#000" style='font-family:"Liberation Sans", sans-serif' textLength="24.31" lengthAdjust="spacingAndGlyphs"  stroke="#000" stroke-width="0.15">R1M1</text>
<line x1="421.37" y1="245.2" x2="421.37" y2="248.2" stroke="#000" stroke-width="1.0" />
<line x1="416.02" y1="245.2" x2="426.72" y2="245.2" stroke="#000" stroke-width="1.0" />
<line x1="416.02" y1="248.2" x2="426.72" y2="248.2" stroke="#000" stroke-width="1.0" />
<circle cx="421.37" cy="246.4" r="2.9" fill="#000"/>
<text x="415.47" y="259.14" font-size="10.50" fill="#000" style='font-family:"Liberation Sans", sans-serif' textLength="11.78" lengthAdjust="spacingAndGlyphs" stroke="#000" stroke-width="0.45">***</text>
<line x1="421.37" y1="386.3" x2="421.37" y2="388.2" stroke="#000" stroke-width="0.8" />
<text x="409.09" y="396.50" font-size="9.00" fill="#000" style='font-family:"Liberation Sans", sans-serif' textLength="24.31" lengthAdjust="spacingAndGlyphs"  stroke="#000" stroke-width="0.15">R1M2</text>
<line x1="448.53999999999996" y1="260.6" x2="448.53999999999996" y2="269.9" stroke="#000" stroke-width="1.0" />
<line x1="443.18999999999994" y1="260.6" x2="453.89" y2="260.6" stroke="#000" stroke-width="1.0" />
<line x1="443.18999999999994" y1="269.9" x2="453.89" y2="269.9" stroke="#000" stroke-width="1.0" />
<circle cx="448.53999999999996" cy="265.2" r="2.9" fill="#000"/>
<text x="442.64" y="278.64" font-size="10.50" fill="#000" style='font-family:"Liberation Sans", sans-serif' textLength="11.78" lengthAdjust="spacingAndGlyphs" stroke="#000" stroke-width="0.45">***</text>
<line x1="448.53999999999996" y1="386.3" x2="448.53999999999996" y2="388.2" stroke="#000" stroke-width="0.8" />
<text x="436.26" y="396.50" font-size="9.00" fill="#000" style='font-family:"Liberation Sans", sans-serif' textLength="24.26" lengthAdjust="spacingAndGlyphs"  stroke="#000" stroke-width="0.15">R1M3</text>
<line x1="475.71" y1="254.6" x2="475.71" y2="261.6" stroke="#000" stroke-width="1.0" />
<line x1="470.35999999999996" y1="254.6" x2="481.06" y2="254.6" stroke="#000" stroke-width="1.0" />
<line x1="470.35999999999996" y1="261.6" x2="481.06" y2="261.6" stroke="#000" stroke-width="1.0" />
<circle cx="475.71" cy="258.2" r="2.9" fill="#000"/>
<text x="469.81" y="271.14" font-size="10.50" fill="#000" style='font-family:"Liberation Sans", sans-serif' textLength="11.78" lengthAdjust="spacingAndGlyphs" stroke="#000" stroke-width="0.45">***</text>
<line x1="475.71" y1="386.3" x2="475.71" y2="388.2" stroke="#000" stroke-width="0.8" />
<text x="463.43" y="396.50" font-size="9.00" fill="#000" style='font-family:"Liberation Sans", sans-serif' textLength="24.31" lengthAdjust="spacingAndGlyphs"  stroke="#000" stroke-width="0.15">R2M1</text>
<line x1="502.88" y1="254.5" x2="502.88" y2="261.5" stroke="#000" stroke-width="1.0" />
<line x1="497.53" y1="254.5" x2="508.23" y2="254.5" stroke="#000" stroke-width="1.0" />
<line x1="497.53" y1="261.5" x2="508.23" y2="261.5" stroke="#000" stroke-width="1.0" />
<circle cx="502.88" cy="258.0" r="2.9" fill="#000"/>
<text x="496.98" y="271.85" font-size="10.50" fill="#000" style='font-family:"Liberation Sans", sans-serif' textLength="11.78" lengthAdjust="spacingAndGlyphs" stroke="#000" stroke-width="0.45">***</text>
<line x1="502.88" y1="386.3" x2="502.88" y2="388.2" stroke="#000" stroke-width="0.8" />
<text x="490.60" y="396.50" font-size="9.00" fill="#000" style='font-family:"Liberation Sans", sans-serif' textLength="24.31" lengthAdjust="spacingAndGlyphs"  stroke="#000" stroke-width="0.15">R2M2</text>
<line x1="530.05" y1="272.6" x2="530.05" y2="286.3" stroke="#000" stroke-width="1.0" />
<line x1="524.6999999999999" y1="272.6" x2="535.4" y2="272.6" stroke="#000" stroke-width="1.0" />
<line x1="524.6999999999999" y1="286.3" x2="535.4" y2="286.3" stroke="#000" stroke-width="1.0" />
<circle cx="530.05" cy="278.9" r="2.9" fill="#000"/>
<text x="524.15" y="295.25" font-size="10.50" fill="#000" style='font-family:"Liberation Sans", sans-serif' textLength="11.78" lengthAdjust="spacingAndGlyphs" stroke="#000" stroke-width="0.45">***</text>
<line x1="530.05" y1="386.3" x2="530.05" y2="388.2" stroke="#000" stroke-width="0.8" />
<text x="517.77" y="396.50" font-size="9.00" fill="#000" style='font-family:"Liberation Sans", sans-serif' textLength="24.26" lengthAdjust="spacingAndGlyphs"  stroke="#000" stroke-width="0.15">R2M3</text>
<line x1="557.22" y1="253.1" x2="557.22" y2="259.4" stroke="#000" stroke-width="1.0" />
<line x1="551.87" y1="253.1" x2="562.57" y2="253.1" stroke="#000" stroke-width="1.0" />
<line x1="551.87" y1="259.4" x2="562.57" y2="259.4" stroke="#000" stroke-width="1.0" />
<circle cx="557.22" cy="256.0" r="2.9" fill="#000"/>
<text x="551.32" y="268.05" font-size="10.50" fill="#000" style='font-family:"Liberation Sans", sans-serif' textLength="11.78" lengthAdjust="spacingAndGlyphs" stroke="#000" stroke-width="0.45">***</text>
<line x1="557.22" y1="386.3" x2="557.22" y2="388.2" stroke="#000" stroke-width="0.8" />
<text x="545.26" y="396.50" font-size="9.00" fill="#000" style='font-family:"Liberation Sans", sans-serif' textLength="23.99" lengthAdjust="spacingAndGlyphs"  stroke="#000" stroke-width="0.15">S1M1</text>
<line x1="584.39" y1="257.3" x2="584.39" y2="264.9" stroke="#000" stroke-width="1.0" />
<line x1="579.04" y1="257.3" x2="589.74" y2="257.3" stroke="#000" stroke-width="1.0" />
<line x1="579.04" y1="264.9" x2="589.74" y2="264.9" stroke="#000" stroke-width="1.0" />
<circle cx="584.39" cy="260.7" r="2.9" fill="#000"/>
<text x="578.49" y="274.25" font-size="10.50" fill="#000" style='font-family:"Liberation Sans", sans-serif' textLength="11.78" lengthAdjust="spacingAndGlyphs" stroke="#000" stroke-width="0.45">***</text>
<line x1="584.39" y1="386.3" x2="584.39" y2="388.2" stroke="#000" stroke-width="0.8" />
<text x="572.44" y="396.50" font-size="9.00" fill="#000" style='font-family:"Liberation Sans", sans-serif' textLength="23.96" lengthAdjust="spacingAndGlyphs"  stroke="#000" stroke-width="0.15">Q1M1</text>
<line x1="611.56" y1="266.4" x2="611.56" y2="278.2" stroke="#000" stroke-width="1.0" />
<line x1="606.2099999999999" y1="266.4" x2="616.91" y2="266.4" stroke="#000" stroke-width="1.0" />
<line x1="606.2099999999999" y1="278.2" x2="616.91" y2="278.2" stroke="#000" stroke-width="1.0" />
<circle cx="611.56" cy="271.9" r="2.9" fill="#000"/>
<text x="605.66" y="285.44" font-size="10.50" fill="#000" style='font-family:"Liberation Sans", sans-serif' textLength="11.78" lengthAdjust="spacingAndGlyphs" stroke="#000" stroke-width="0.45">***</text>
<line x1="611.56" y1="386.3" x2="611.56" y2="388.2" stroke="#000" stroke-width="0.8" />
<text x="599.61" y="396.50" font-size="9.00" fill="#000" style='font-family:"Liberation Sans", sans-serif' textLength="23.96" lengthAdjust="spacingAndGlyphs"  stroke="#000" stroke-width="0.15">Q1M2</text>
<line x1="353.5" y1="237.7" x2="353.5" y2="386.8" stroke="#000" stroke-width="1.1" />
<line x1="353" y1="386.3" x2="652.7" y2="386.3" stroke="#000" stroke-width="1.1" />
<line x1="351.5" y1="379.8" x2="353.5" y2="379.8" stroke="#000" stroke-width="0.8" />
<text x="336.61" y="382.70" font-size="8.30" fill="#000" style='font-family:"Liberation Sans", sans-serif' textLength="13.48" lengthAdjust="spacingAndGlyphs"  stroke="#000" stroke-width="0.15">0.0</text>
<line x1="351.5" y1="351.52" x2="353.5" y2="351.52" stroke="#000" stroke-width="0.8" />
<text x="336.61" y="354.42" font-size="8.30" fill="#000" style='font-family:"Liberation Sans", sans-serif' textLength="13.58" lengthAdjust="spacingAndGlyphs"  stroke="#000" stroke-width="0.15">0.2</text>
<line x1="351.5" y1="323.24" x2="353.5" y2="323.24" stroke="#000" stroke-width="0.8" />
<text x="336.62" y="326.14" font-size="8.30" fill="#000" style='font-family:"Liberation Sans", sans-serif' textLength="13.37" lengthAdjust="spacingAndGlyphs"  stroke="#000" stroke-width="0.15">0.4</text>
<line x1="351.5" y1="294.96000000000004" x2="353.5" y2="294.96000000000004" stroke="#000" stroke-width="0.8" />
<text x="336.61" y="297.86" font-size="8.30" fill="#000" style='font-family:"Liberation Sans", sans-serif' textLength="13.53" lengthAdjust="spacingAndGlyphs"  stroke="#000" stroke-width="0.15">0.6</text>
<line x1="351.5" y1="266.68" x2="353.5" y2="266.68" stroke="#000" stroke-width="0.8" />
<text x="336.61" y="269.58" font-size="8.30" fill="#000" style='font-family:"Liberation Sans", sans-serif' textLength="13.48" lengthAdjust="spacingAndGlyphs"  stroke="#000" stroke-width="0.15">0.8</text>
<line x1="351.5" y1="238.4" x2="353.5" y2="238.4" stroke="#000" stroke-width="0.8" />
<text x="336.25" y="241.30" font-size="8.30" fill="#000" style='font-family:"Liberation Sans", sans-serif' textLength="13.85" lengthAdjust="spacingAndGlyphs"  stroke="#000" stroke-width="0.15">1.0</text>
<text x="0" y="0" font-size="9.00" fill="#000" stroke="#000" stroke-width="0.15" style='font-family:"Liberation Sans", sans-serif' textLength="183.20" lengthAdjust="spacingAndGlyphs" transform="translate(332.20,403.47) rotate(-90)">Correlation between SCA and Upper Bound</text>
</svg>
</body></html>
